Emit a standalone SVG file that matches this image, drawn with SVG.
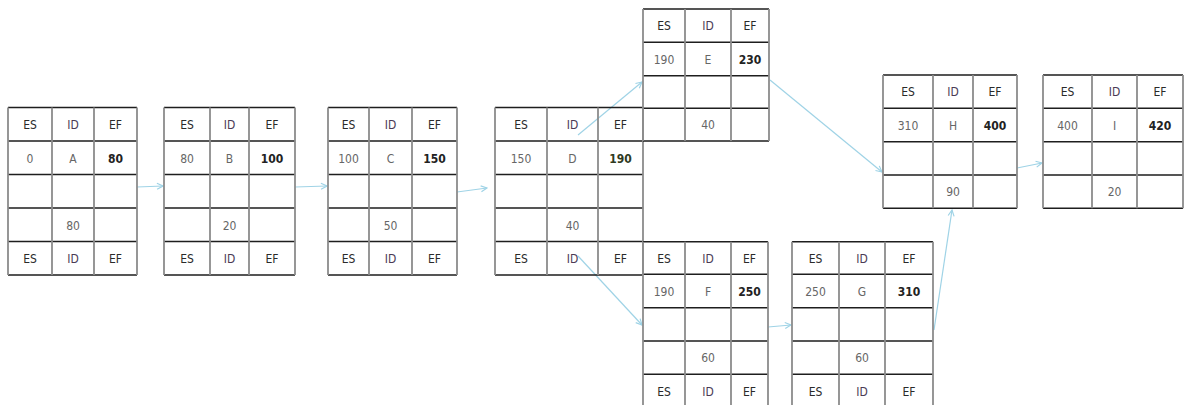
<svg xmlns="http://www.w3.org/2000/svg" width="1184" height="405" viewBox="0 0 1184 405">
<style>
.h{stroke:#1e1e1e;stroke-width:1.6;fill:none}
.v{stroke:#8c8c8c;stroke-width:1.8;fill:none}
text{font-family:"DejaVu Sans Condensed","Liberation Sans",sans-serif;font-size:12px;fill:#444;text-anchor:middle}
.k{fill:#2a2a2a}
.id{fill:#4a3a55}
.b{font-weight:bold;fill:#222}
.n{fill:#666}
.c{stroke:#9fd3e6;stroke-width:1.2;fill:none;marker-end:url(#ah)}
</style>
<defs>
<marker id="ah" markerWidth="8" markerHeight="8" refX="7" refY="4" orient="auto" markerUnits="userSpaceOnUse">
<path d="M1,1 L7,4 L1,7" fill="none" stroke="#9fd3e6" stroke-width="1.2"/>
</marker>
</defs>
<rect width="1184" height="405" fill="#fff"/>
<g id="connectors">
<path class="c" d="M137 187 L163 186"/>
<path class="c" d="M295 187 L327 186"/>
<path class="c" d="M457 192 L487 188"/>
<path class="c" d="M578 135 L642 82"/>
<path class="c" d="M770 80 L882 172"/>
<path class="c" d="M578 256 L642 325"/>
<path class="c" d="M768 327 L791 325"/>
<path class="c" d="M934 330 L952 210"/>
<path class="c" d="M1017 168 L1042 163"/>
</g>
<g id="nodeA">
<path class="h" d="M8 107.5H137M8 141H137M8 174.5H137M8 208H137M8 241.5H137M8 275H137"/>
<path class="v" d="M8 107.5V275M52 107.5V275M94 107.5V275M137 107.5V275"/>
<text class="k" x="30" y="129">ES</text><text class="id" x="73" y="129">ID</text><text class="k" x="115.5" y="129">EF</text>
<text class="n" x="30" y="162.5">0</text><text class="n" x="73" y="162.5">A</text><text class="b" x="115.5" y="162.5">80</text>
<text class="n" x="73" y="229.5">80</text>
<text class="k" x="30" y="263">ES</text><text class="id" x="73" y="263">ID</text><text class="k" x="115.5" y="263">EF</text>
</g>
<g id="nodeB">
<path class="h" d="M164 107.5H295M164 141H295M164 174.5H295M164 208H295M164 241.5H295M164 275H295"/>
<path class="v" d="M164 107.5V275M210 107.5V275M249 107.5V275M295 107.5V275"/>
<text class="k" x="187" y="129">ES</text><text class="id" x="229.5" y="129">ID</text><text class="k" x="272" y="129">EF</text>
<text class="n" x="187" y="162.5">80</text><text class="n" x="229.5" y="162.5">B</text><text class="b" x="272" y="162.5">100</text>
<text class="n" x="229.5" y="229.5">20</text>
<text class="k" x="187" y="263">ES</text><text class="id" x="229.5" y="263">ID</text><text class="k" x="272" y="263">EF</text>
</g>
<g id="nodeC">
<path class="h" d="M328 107.5H457M328 141H457M328 174.5H457M328 208H457M328 241.5H457M328 275H457"/>
<path class="v" d="M328 107.5V275M369 107.5V275M412 107.5V275M457 107.5V275"/>
<text class="k" x="348.5" y="129">ES</text><text class="id" x="390.5" y="129">ID</text><text class="k" x="434.5" y="129">EF</text>
<text class="n" x="348.5" y="162.5">100</text><text class="n" x="390.5" y="162.5">C</text><text class="b" x="434.5" y="162.5">150</text>
<text class="n" x="390.5" y="229.5">50</text>
<text class="k" x="348.5" y="263">ES</text><text class="id" x="390.5" y="263">ID</text><text class="k" x="434.5" y="263">EF</text>
</g>
<g id="nodeD">
<path class="h" d="M495 107.5H643M495 141H643M495 174.5H643M495 208H643M495 241.5H643M495 275H643"/>
<path class="v" d="M495 107.5V275M547 107.5V275M598 107.5V275M643 107.5V275"/>
<text class="k" x="521" y="129">ES</text><text class="id" x="572.5" y="129">ID</text><text class="k" x="620.5" y="129">EF</text>
<text class="n" x="521" y="162.5">150</text><text class="n" x="572.5" y="162.5">D</text><text class="b" x="620.5" y="162.5" style="fill:#2f3a1e">190</text>
<text class="n" x="572.5" y="229.5">40</text>
<text class="k" x="521" y="263">ES</text><text class="id" x="572.5" y="263">ID</text><text class="k" x="620.5" y="263">EF</text>
</g>
<g id="nodeE">
<path class="h" d="M643 9H769M643 42.3H769M643 75.7H769M643 108.3H769M643 141H769"/>
<path class="v" d="M643 9V141M685 9V141M731 9V141M769 9V141"/>
<text class="k" x="664" y="30">ES</text><text class="id" x="708" y="30">ID</text><text class="k" x="750" y="30">EF</text>
<text class="n" x="664" y="63.5">190</text><text class="n" x="708" y="63.5">E</text><text class="b" x="750" y="63.5">230</text>
<text class="n" x="708" y="129">40</text>
</g>
<g id="nodeF">
<path class="h" d="M643 241.7H768M643 274.3H768M643 307.7H768M643 341H768M643 374.3H768M643 407.7H768"/>
<path class="v" d="M643 241.7V407.7M685 241.7V407.7M731 241.7V407.7M768 241.7V407.7"/>
<text class="k" x="664" y="262.5">ES</text><text class="id" x="708" y="262.5">ID</text><text class="k" x="749.5" y="262.5">EF</text>
<text class="n" x="664" y="295.5">190</text><text class="n" x="708" y="295.5">F</text><text class="b" x="749.5" y="295.5">250</text>
<text class="n" x="708" y="362">60</text>
<text class="k" x="664" y="395.5">ES</text><text class="id" x="708" y="395.5">ID</text><text class="k" x="749.5" y="395.5">EF</text>
</g>
<g id="nodeG">
<path class="h" d="M792 241.7H933M792 274.3H933M792 307.7H933M792 341H933M792 374.3H933M792 407.7H933"/>
<path class="v" d="M792 241.7V407.7M839 241.7V407.7M885 241.7V407.7M933 241.7V407.7"/>
<text class="k" x="815.5" y="262.5">ES</text><text class="id" x="862" y="262.5">ID</text><text class="k" x="909" y="262.5">EF</text>
<text class="n" x="815.5" y="295.5">250</text><text class="n" x="862" y="295.5">G</text><text class="b" x="909" y="295.5">310</text>
<text class="n" x="862" y="362">60</text>
<text class="k" x="815.5" y="395.5">ES</text><text class="id" x="862" y="395.5">ID</text><text class="k" x="909" y="395.5">EF</text>
</g>
<g id="nodeH">
<path class="h" d="M883 75H1017M883 108.3H1017M883 141.7H1017M883 175H1017M883 208.3H1017"/>
<path class="v" d="M883 75V208.3M933 75V208.3M973 75V208.3M1017 75V208.3"/>
<text class="k" x="908" y="96">ES</text><text class="id" x="953" y="96">ID</text><text class="k" x="995" y="96">EF</text>
<text class="n" x="908" y="129.5">310</text><text class="n" x="953" y="129.5">H</text><text class="b" x="995" y="129.5">400</text>
<text class="n" x="953" y="196">90</text>
</g>
<g id="nodeI">
<path class="h" d="M1043 75H1183M1043 108.3H1183M1043 141.7H1183M1043 175H1183M1043 208.3H1183"/>
<path class="v" d="M1043 75V208.3M1092 75V208.3M1137 75V208.3M1183 75V208.3"/>
<text class="k" x="1067.5" y="96">ES</text><text class="id" x="1114.5" y="96">ID</text><text class="k" x="1160" y="96">EF</text>
<text class="n" x="1067.5" y="129.5">400</text><text class="n" x="1114.5" y="129.5">I</text><text class="b" x="1160" y="129.5">420</text>
<text class="n" x="1114.5" y="196">20</text>
</g>
</svg>
